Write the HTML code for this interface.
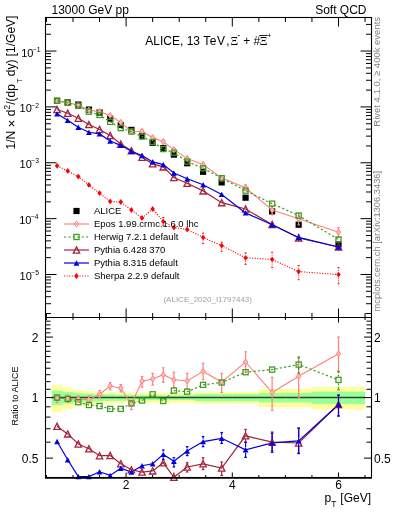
<!DOCTYPE html><html><head><meta charset="utf-8"><style>html,body{margin:0;padding:0;background:#fff;}svg{display:block;will-change:transform;}text{font-family:"Liberation Sans",sans-serif;}</style></head><body>
<svg width="393" height="512" viewBox="0 0 393 512">
<defs><clipPath id="cu"><rect x="45.5" y="17.5" width="326.0" height="300.0"/></clipPath>
<clipPath id="cr"><rect x="45.5" y="317.5" width="326.0" height="160.0"/></clipPath></defs>
<g clip-path="url(#cr)">
<rect x="51.76" y="385.32" width="10.62" height="26.57" fill="#ffff99"/>
<rect x="62.38" y="387.71" width="10.62" height="21.05" fill="#ffff99"/>
<rect x="73.00" y="390.24" width="10.62" height="15.40" fill="#ffff99"/>
<rect x="83.62" y="390.88" width="10.62" height="14.00" fill="#ffff99"/>
<rect x="94.24" y="391.86" width="10.62" height="11.89" fill="#ffff99"/>
<rect x="104.86" y="392.27" width="10.62" height="11.01" fill="#ffff99"/>
<rect x="115.48" y="392.51" width="10.62" height="10.49" fill="#ffff99"/>
<rect x="126.10" y="392.68" width="10.62" height="10.14" fill="#ffff99"/>
<rect x="136.72" y="392.84" width="10.62" height="9.79" fill="#ffff99"/>
<rect x="147.34" y="392.84" width="10.62" height="9.79" fill="#ffff99"/>
<rect x="157.96" y="392.84" width="10.62" height="9.79" fill="#ffff99"/>
<rect x="168.58" y="392.84" width="10.62" height="9.79" fill="#ffff99"/>
<rect x="179.20" y="392.84" width="15.93" height="9.79" fill="#ffff99"/>
<rect x="195.13" y="392.02" width="15.93" height="11.54" fill="#ffff99"/>
<rect x="211.06" y="392.02" width="21.24" height="11.54" fill="#ffff99"/>
<rect x="232.30" y="392.02" width="26.55" height="11.54" fill="#ffff99"/>
<rect x="258.85" y="388.96" width="26.55" height="18.22" fill="#ffff99"/>
<rect x="285.40" y="388.96" width="26.55" height="18.22" fill="#ffff99"/>
<rect x="311.95" y="387.16" width="53.10" height="22.29" fill="#ffff99"/>
<rect x="51.76" y="390.72" width="10.62" height="14.35" fill="#99ff99"/>
<rect x="62.38" y="392.02" width="10.62" height="11.54" fill="#99ff99"/>
<rect x="73.00" y="393.26" width="10.62" height="8.91" fill="#99ff99"/>
<rect x="83.62" y="393.59" width="10.62" height="8.21" fill="#99ff99"/>
<rect x="94.24" y="394.18" width="10.62" height="6.99" fill="#99ff99"/>
<rect x="104.86" y="394.43" width="10.62" height="6.46" fill="#99ff99"/>
<rect x="115.48" y="394.60" width="10.62" height="6.11" fill="#99ff99"/>
<rect x="126.10" y="394.77" width="10.62" height="5.76" fill="#99ff99"/>
<rect x="136.72" y="395.19" width="10.62" height="4.89" fill="#99ff99"/>
<rect x="147.34" y="395.19" width="10.62" height="4.89" fill="#99ff99"/>
<rect x="157.96" y="395.19" width="10.62" height="4.89" fill="#99ff99"/>
<rect x="168.58" y="395.19" width="10.62" height="4.89" fill="#99ff99"/>
<rect x="179.20" y="395.19" width="15.93" height="4.89" fill="#99ff99"/>
<rect x="195.13" y="394.09" width="15.93" height="7.16" fill="#99ff99"/>
<rect x="211.06" y="394.09" width="21.24" height="7.16" fill="#99ff99"/>
<rect x="232.30" y="394.09" width="26.55" height="7.16" fill="#99ff99"/>
<rect x="258.85" y="393.01" width="26.55" height="9.44" fill="#99ff99"/>
<rect x="285.40" y="393.01" width="26.55" height="9.44" fill="#99ff99"/>
<rect x="311.95" y="391.61" width="53.10" height="12.42" fill="#99ff99"/>
<line x1="51.8" x2="365.1" y1="397.6" y2="397.6" stroke="#000" stroke-opacity="0.72" stroke-width="1.5"/>
</g>
<g clip-path="url(#cr)">
<polyline points="57.07,398.30 67.69,398.70 78.31,399.00 88.93,399.70 99.55,394.20 110.17,386.00 120.79,388.20 131.41,404.00 142.03,381.20 152.65,379.00 163.27,374.70 173.89,379.80 187.16,381.00 203.09,371.40 221.68,382.10 245.57,362.00 272.12,392.50 298.68,376.30 338.50,353.70" fill="none" stroke="#ff7f7f" stroke-width="1.1"/>
<polyline points="57.07,397.60 67.69,398.80 78.31,402.10 88.93,405.00 99.55,406.00 110.17,408.90 120.79,408.90 131.41,403.50 142.03,400.50 152.65,394.30 163.27,401.00 173.89,390.60 187.16,391.70 203.09,384.90 221.68,382.50 245.57,372.20 272.12,369.60 298.68,364.60 338.50,379.90" fill="none" stroke="#3f9a22" stroke-width="1.2" stroke-dasharray="2.2,2.2"/>
<polyline points="57.07,426.30 67.69,433.90 78.31,444.00 88.93,448.80 99.55,455.70 110.17,455.50 120.79,463.70 131.41,469.80 142.03,472.10 152.65,470.90 163.27,462.70 173.89,477.30 187.16,467.00 203.09,463.80 221.68,468.00 245.57,435.80 272.12,442.20 298.68,443.00 338.50,404.50" fill="none" stroke="#a4243c" stroke-width="1.2"/>
<polyline points="57.07,441.50 67.69,459.70 78.31,476.60 88.93,476.60 99.55,471.80 110.17,475.40 120.79,468.20 131.41,472.00 142.03,465.70 152.65,463.80 163.27,454.40 173.89,461.20 187.16,451.00 203.09,441.60 221.68,438.30 245.57,449.80 272.12,442.90 298.68,440.90 338.50,404.50" fill="none" stroke="#0000e0" stroke-width="1.2"/>
</g>
<line x1="57.07" x2="57.07" y1="394.80" y2="402.50" stroke="#ff7f7f" stroke-width="1.20"/>
<line x1="55.77" x2="58.37" y1="394.80" y2="394.80" stroke="#ff7f7f" stroke-width="1.20"/>
<line x1="55.77" x2="58.37" y1="402.50" y2="402.50" stroke="#ff7f7f" stroke-width="1.20"/>
<line x1="67.69" x2="67.69" y1="395.00" y2="402.50" stroke="#ff7f7f" stroke-width="1.20"/>
<line x1="66.39" x2="68.99" y1="395.00" y2="395.00" stroke="#ff7f7f" stroke-width="1.20"/>
<line x1="66.39" x2="68.99" y1="402.50" y2="402.50" stroke="#ff7f7f" stroke-width="1.20"/>
<line x1="78.31" x2="78.31" y1="396.00" y2="402.00" stroke="#ff7f7f" stroke-width="1.20"/>
<line x1="77.01" x2="79.61" y1="396.00" y2="396.00" stroke="#ff7f7f" stroke-width="1.20"/>
<line x1="77.01" x2="79.61" y1="402.00" y2="402.00" stroke="#ff7f7f" stroke-width="1.20"/>
<line x1="88.93" x2="88.93" y1="396.00" y2="403.00" stroke="#ff7f7f" stroke-width="1.20"/>
<line x1="87.63" x2="90.23" y1="396.00" y2="396.00" stroke="#ff7f7f" stroke-width="1.20"/>
<line x1="87.63" x2="90.23" y1="403.00" y2="403.00" stroke="#ff7f7f" stroke-width="1.20"/>
<line x1="99.55" x2="99.55" y1="390.60" y2="398.00" stroke="#ff7f7f" stroke-width="1.20"/>
<line x1="98.25" x2="100.85" y1="390.60" y2="390.60" stroke="#ff7f7f" stroke-width="1.20"/>
<line x1="98.25" x2="100.85" y1="398.00" y2="398.00" stroke="#ff7f7f" stroke-width="1.20"/>
<line x1="110.17" x2="110.17" y1="382.60" y2="389.80" stroke="#ff7f7f" stroke-width="1.20"/>
<line x1="108.87" x2="111.47" y1="382.60" y2="382.60" stroke="#ff7f7f" stroke-width="1.20"/>
<line x1="108.87" x2="111.47" y1="389.80" y2="389.80" stroke="#ff7f7f" stroke-width="1.20"/>
<line x1="120.79" x2="120.79" y1="384.50" y2="392.00" stroke="#ff7f7f" stroke-width="1.20"/>
<line x1="119.49" x2="122.09" y1="384.50" y2="384.50" stroke="#ff7f7f" stroke-width="1.20"/>
<line x1="119.49" x2="122.09" y1="392.00" y2="392.00" stroke="#ff7f7f" stroke-width="1.20"/>
<line x1="131.41" x2="131.41" y1="400.50" y2="409.60" stroke="#ff7f7f" stroke-width="1.20"/>
<line x1="130.11" x2="132.71" y1="400.50" y2="400.50" stroke="#ff7f7f" stroke-width="1.20"/>
<line x1="130.11" x2="132.71" y1="409.60" y2="409.60" stroke="#ff7f7f" stroke-width="1.20"/>
<line x1="142.03" x2="142.03" y1="376.50" y2="387.20" stroke="#ff7f7f" stroke-width="1.20"/>
<line x1="140.73" x2="143.33" y1="376.50" y2="376.50" stroke="#ff7f7f" stroke-width="1.20"/>
<line x1="140.73" x2="143.33" y1="387.20" y2="387.20" stroke="#ff7f7f" stroke-width="1.20"/>
<line x1="152.65" x2="152.65" y1="373.40" y2="385.00" stroke="#ff7f7f" stroke-width="1.20"/>
<line x1="151.35" x2="153.95" y1="373.40" y2="373.40" stroke="#ff7f7f" stroke-width="1.20"/>
<line x1="151.35" x2="153.95" y1="385.00" y2="385.00" stroke="#ff7f7f" stroke-width="1.20"/>
<line x1="163.27" x2="163.27" y1="367.80" y2="382.30" stroke="#ff7f7f" stroke-width="1.20"/>
<line x1="161.97" x2="164.57" y1="367.80" y2="367.80" stroke="#ff7f7f" stroke-width="1.20"/>
<line x1="161.97" x2="164.57" y1="382.30" y2="382.30" stroke="#ff7f7f" stroke-width="1.20"/>
<line x1="173.89" x2="173.89" y1="372.20" y2="387.40" stroke="#ff7f7f" stroke-width="1.20"/>
<line x1="172.59" x2="175.19" y1="372.20" y2="372.20" stroke="#ff7f7f" stroke-width="1.20"/>
<line x1="172.59" x2="175.19" y1="387.40" y2="387.40" stroke="#ff7f7f" stroke-width="1.20"/>
<line x1="187.16" x2="187.16" y1="373.40" y2="388.70" stroke="#ff7f7f" stroke-width="1.20"/>
<line x1="185.86" x2="188.47" y1="373.40" y2="373.40" stroke="#ff7f7f" stroke-width="1.20"/>
<line x1="185.86" x2="188.47" y1="388.70" y2="388.70" stroke="#ff7f7f" stroke-width="1.20"/>
<line x1="203.09" x2="203.09" y1="363.30" y2="379.80" stroke="#ff7f7f" stroke-width="1.20"/>
<line x1="201.79" x2="204.40" y1="363.30" y2="363.30" stroke="#ff7f7f" stroke-width="1.20"/>
<line x1="201.79" x2="204.40" y1="379.80" y2="379.80" stroke="#ff7f7f" stroke-width="1.20"/>
<line x1="221.68" x2="221.68" y1="373.40" y2="392.50" stroke="#ff7f7f" stroke-width="1.20"/>
<line x1="220.38" x2="222.98" y1="373.40" y2="373.40" stroke="#ff7f7f" stroke-width="1.20"/>
<line x1="220.38" x2="222.98" y1="392.50" y2="392.50" stroke="#ff7f7f" stroke-width="1.20"/>
<line x1="245.57" x2="245.57" y1="351.80" y2="372.20" stroke="#ff7f7f" stroke-width="1.20"/>
<line x1="244.27" x2="246.88" y1="351.80" y2="351.80" stroke="#ff7f7f" stroke-width="1.20"/>
<line x1="244.27" x2="246.88" y1="372.20" y2="372.20" stroke="#ff7f7f" stroke-width="1.20"/>
<line x1="272.12" x2="272.12" y1="377.30" y2="410.40" stroke="#ff7f7f" stroke-width="1.20"/>
<line x1="270.82" x2="273.43" y1="377.30" y2="377.30" stroke="#ff7f7f" stroke-width="1.20"/>
<line x1="270.82" x2="273.43" y1="410.40" y2="410.40" stroke="#ff7f7f" stroke-width="1.20"/>
<line x1="298.68" x2="298.68" y1="358.00" y2="398.00" stroke="#ff7f7f" stroke-width="1.20"/>
<line x1="297.38" x2="299.98" y1="358.00" y2="358.00" stroke="#ff7f7f" stroke-width="1.20"/>
<line x1="297.38" x2="299.98" y1="398.00" y2="398.00" stroke="#ff7f7f" stroke-width="1.20"/>
<line x1="338.50" x2="338.50" y1="337.10" y2="372.00" stroke="#ff7f7f" stroke-width="1.20"/>
<line x1="337.20" x2="339.80" y1="337.10" y2="337.10" stroke="#ff7f7f" stroke-width="1.20"/>
<line x1="337.20" x2="339.80" y1="372.00" y2="372.00" stroke="#ff7f7f" stroke-width="1.20"/>
<polygon points="57.07,395.40 59.27,398.30 57.07,401.20 54.87,398.30" fill="#ffb8b8" stroke="#ff7f7f" stroke-width="1.0"/>
<polygon points="67.69,395.80 69.89,398.70 67.69,401.60 65.49,398.70" fill="#ffb8b8" stroke="#ff7f7f" stroke-width="1.0"/>
<polygon points="78.31,396.10 80.51,399.00 78.31,401.90 76.11,399.00" fill="#ffb8b8" stroke="#ff7f7f" stroke-width="1.0"/>
<polygon points="88.93,396.80 91.13,399.70 88.93,402.60 86.73,399.70" fill="#ffb8b8" stroke="#ff7f7f" stroke-width="1.0"/>
<polygon points="99.55,391.30 101.75,394.20 99.55,397.10 97.35,394.20" fill="#ffb8b8" stroke="#ff7f7f" stroke-width="1.0"/>
<polygon points="110.17,383.10 112.37,386.00 110.17,388.90 107.97,386.00" fill="#ffb8b8" stroke="#ff7f7f" stroke-width="1.0"/>
<polygon points="120.79,385.30 122.99,388.20 120.79,391.10 118.59,388.20" fill="#ffb8b8" stroke="#ff7f7f" stroke-width="1.0"/>
<polygon points="131.41,401.10 133.61,404.00 131.41,406.90 129.21,404.00" fill="#ffb8b8" stroke="#ff7f7f" stroke-width="1.0"/>
<polygon points="142.03,378.30 144.23,381.20 142.03,384.10 139.83,381.20" fill="#ffb8b8" stroke="#ff7f7f" stroke-width="1.0"/>
<polygon points="152.65,376.10 154.85,379.00 152.65,381.90 150.45,379.00" fill="#ffb8b8" stroke="#ff7f7f" stroke-width="1.0"/>
<polygon points="163.27,371.80 165.47,374.70 163.27,377.60 161.07,374.70" fill="#ffb8b8" stroke="#ff7f7f" stroke-width="1.0"/>
<polygon points="173.89,376.90 176.09,379.80 173.89,382.70 171.69,379.80" fill="#ffb8b8" stroke="#ff7f7f" stroke-width="1.0"/>
<polygon points="187.16,378.10 189.36,381.00 187.16,383.90 184.97,381.00" fill="#ffb8b8" stroke="#ff7f7f" stroke-width="1.0"/>
<polygon points="203.09,368.50 205.29,371.40 203.09,374.30 200.90,371.40" fill="#ffb8b8" stroke="#ff7f7f" stroke-width="1.0"/>
<polygon points="221.68,379.20 223.88,382.10 221.68,385.00 219.48,382.10" fill="#ffb8b8" stroke="#ff7f7f" stroke-width="1.0"/>
<polygon points="245.57,359.10 247.77,362.00 245.57,364.90 243.38,362.00" fill="#ffb8b8" stroke="#ff7f7f" stroke-width="1.0"/>
<polygon points="272.12,389.60 274.32,392.50 272.12,395.40 269.93,392.50" fill="#ffb8b8" stroke="#ff7f7f" stroke-width="1.0"/>
<polygon points="298.68,373.40 300.88,376.30 298.68,379.20 296.48,376.30" fill="#ffb8b8" stroke="#ff7f7f" stroke-width="1.0"/>
<polygon points="338.50,350.80 340.70,353.70 338.50,356.60 336.30,353.70" fill="#ffb8b8" stroke="#ff7f7f" stroke-width="1.0"/>
<line x1="272.12" x2="272.12" y1="366.00" y2="366.30" stroke="#3f9a22" stroke-width="1.20" stroke-dasharray="2,1.5"/>
<line x1="272.12" x2="272.12" y1="372.90" y2="373.20" stroke="#3f9a22" stroke-width="1.20" stroke-dasharray="2,1.5"/>
<line x1="298.68" x2="298.68" y1="357.00" y2="361.30" stroke="#3f9a22" stroke-width="1.20" stroke-dasharray="2,1.5"/>
<line x1="298.68" x2="298.68" y1="367.90" y2="373.30" stroke="#3f9a22" stroke-width="1.20" stroke-dasharray="2,1.5"/>
<line x1="297.38" x2="299.98" y1="357.00" y2="357.00" stroke="#3f9a22" stroke-width="1.20"/>
<line x1="297.38" x2="299.98" y1="373.30" y2="373.30" stroke="#3f9a22" stroke-width="1.20"/>
<line x1="338.50" x2="338.50" y1="371.30" y2="376.60" stroke="#3f9a22" stroke-width="1.20" stroke-dasharray="2,1.5"/>
<line x1="338.50" x2="338.50" y1="383.20" y2="389.70" stroke="#3f9a22" stroke-width="1.20" stroke-dasharray="2,1.5"/>
<line x1="337.20" x2="339.80" y1="371.30" y2="371.30" stroke="#3f9a22" stroke-width="1.20"/>
<line x1="337.20" x2="339.80" y1="389.70" y2="389.70" stroke="#3f9a22" stroke-width="1.20"/>
<rect x="54.49" y="395.03" width="5.15" height="5.15" fill="none" stroke="#3f9a22" stroke-width="1.25"/>
<rect x="65.11" y="396.23" width="5.15" height="5.15" fill="none" stroke="#3f9a22" stroke-width="1.25"/>
<rect x="75.73" y="399.53" width="5.15" height="5.15" fill="none" stroke="#3f9a22" stroke-width="1.25"/>
<rect x="86.35" y="402.43" width="5.15" height="5.15" fill="none" stroke="#3f9a22" stroke-width="1.25"/>
<rect x="96.97" y="403.43" width="5.15" height="5.15" fill="none" stroke="#3f9a22" stroke-width="1.25"/>
<rect x="107.59" y="406.32" width="5.15" height="5.15" fill="none" stroke="#3f9a22" stroke-width="1.25"/>
<rect x="118.21" y="406.32" width="5.15" height="5.15" fill="none" stroke="#3f9a22" stroke-width="1.25"/>
<rect x="128.84" y="400.93" width="5.15" height="5.15" fill="none" stroke="#3f9a22" stroke-width="1.25"/>
<rect x="139.45" y="397.93" width="5.15" height="5.15" fill="none" stroke="#3f9a22" stroke-width="1.25"/>
<rect x="150.08" y="391.73" width="5.15" height="5.15" fill="none" stroke="#3f9a22" stroke-width="1.25"/>
<rect x="160.70" y="398.43" width="5.15" height="5.15" fill="none" stroke="#3f9a22" stroke-width="1.25"/>
<rect x="171.31" y="388.03" width="5.15" height="5.15" fill="none" stroke="#3f9a22" stroke-width="1.25"/>
<rect x="184.59" y="389.12" width="5.15" height="5.15" fill="none" stroke="#3f9a22" stroke-width="1.25"/>
<rect x="200.52" y="382.32" width="5.15" height="5.15" fill="none" stroke="#3f9a22" stroke-width="1.25"/>
<rect x="219.11" y="379.93" width="5.15" height="5.15" fill="none" stroke="#3f9a22" stroke-width="1.25"/>
<rect x="243.00" y="369.62" width="5.15" height="5.15" fill="none" stroke="#3f9a22" stroke-width="1.25"/>
<rect x="269.55" y="367.03" width="5.15" height="5.15" fill="none" stroke="#3f9a22" stroke-width="1.25"/>
<rect x="296.10" y="362.03" width="5.15" height="5.15" fill="none" stroke="#3f9a22" stroke-width="1.25"/>
<rect x="335.93" y="377.32" width="5.15" height="5.15" fill="none" stroke="#3f9a22" stroke-width="1.25"/>
<line x1="173.89" x2="173.89" y1="472.60" y2="474.00" stroke="#a4243c" stroke-width="1.20"/>
<line x1="187.16" x2="187.16" y1="462.70" y2="463.70" stroke="#a4243c" stroke-width="1.20"/>
<line x1="187.16" x2="187.16" y1="470.30" y2="472.00" stroke="#a4243c" stroke-width="1.20"/>
<line x1="185.86" x2="188.47" y1="462.70" y2="462.70" stroke="#a4243c" stroke-width="1.20"/>
<line x1="185.86" x2="188.47" y1="472.00" y2="472.00" stroke="#a4243c" stroke-width="1.20"/>
<line x1="203.09" x2="203.09" y1="457.70" y2="460.50" stroke="#a4243c" stroke-width="1.20"/>
<line x1="203.09" x2="203.09" y1="467.10" y2="469.60" stroke="#a4243c" stroke-width="1.20"/>
<line x1="201.79" x2="204.40" y1="457.70" y2="457.70" stroke="#a4243c" stroke-width="1.20"/>
<line x1="201.79" x2="204.40" y1="469.60" y2="469.60" stroke="#a4243c" stroke-width="1.20"/>
<line x1="221.68" x2="221.68" y1="462.00" y2="464.70" stroke="#a4243c" stroke-width="1.20"/>
<line x1="221.68" x2="221.68" y1="471.30" y2="475.50" stroke="#a4243c" stroke-width="1.20"/>
<line x1="220.38" x2="222.98" y1="462.00" y2="462.00" stroke="#a4243c" stroke-width="1.20"/>
<line x1="220.38" x2="222.98" y1="475.50" y2="475.50" stroke="#a4243c" stroke-width="1.20"/>
<line x1="245.57" x2="245.57" y1="429.40" y2="432.50" stroke="#a4243c" stroke-width="1.20"/>
<line x1="245.57" x2="245.57" y1="439.10" y2="442.20" stroke="#a4243c" stroke-width="1.20"/>
<line x1="244.27" x2="246.88" y1="429.40" y2="429.40" stroke="#a4243c" stroke-width="1.20"/>
<line x1="244.27" x2="246.88" y1="442.20" y2="442.20" stroke="#a4243c" stroke-width="1.20"/>
<line x1="272.12" x2="272.12" y1="432.00" y2="438.90" stroke="#a4243c" stroke-width="1.20"/>
<line x1="272.12" x2="272.12" y1="445.50" y2="451.00" stroke="#a4243c" stroke-width="1.20"/>
<line x1="270.82" x2="273.43" y1="432.00" y2="432.00" stroke="#a4243c" stroke-width="1.20"/>
<line x1="270.82" x2="273.43" y1="451.00" y2="451.00" stroke="#a4243c" stroke-width="1.20"/>
<line x1="298.68" x2="298.68" y1="428.00" y2="439.70" stroke="#a4243c" stroke-width="1.20"/>
<line x1="298.68" x2="298.68" y1="446.30" y2="453.00" stroke="#a4243c" stroke-width="1.20"/>
<line x1="297.38" x2="299.98" y1="428.00" y2="428.00" stroke="#a4243c" stroke-width="1.20"/>
<line x1="297.38" x2="299.98" y1="453.00" y2="453.00" stroke="#a4243c" stroke-width="1.20"/>
<line x1="338.50" x2="338.50" y1="395.00" y2="401.20" stroke="#a4243c" stroke-width="1.20"/>
<line x1="338.50" x2="338.50" y1="407.80" y2="416.00" stroke="#a4243c" stroke-width="1.20"/>
<line x1="337.20" x2="339.80" y1="395.00" y2="395.00" stroke="#a4243c" stroke-width="1.20"/>
<line x1="337.20" x2="339.80" y1="416.00" y2="416.00" stroke="#a4243c" stroke-width="1.20"/>
<polygon points="57.07,423.20 60.27,429.40 53.87,429.40" fill="none" stroke="#a4243c" stroke-width="1.3" stroke-linejoin="miter"/>
<polygon points="67.69,430.80 70.89,437.00 64.49,437.00" fill="none" stroke="#a4243c" stroke-width="1.3" stroke-linejoin="miter"/>
<polygon points="78.31,440.90 81.51,447.10 75.11,447.10" fill="none" stroke="#a4243c" stroke-width="1.3" stroke-linejoin="miter"/>
<polygon points="88.93,445.70 92.13,451.90 85.73,451.90" fill="none" stroke="#a4243c" stroke-width="1.3" stroke-linejoin="miter"/>
<polygon points="99.55,452.60 102.75,458.80 96.35,458.80" fill="none" stroke="#a4243c" stroke-width="1.3" stroke-linejoin="miter"/>
<polygon points="110.17,452.40 113.37,458.60 106.97,458.60" fill="none" stroke="#a4243c" stroke-width="1.3" stroke-linejoin="miter"/>
<polygon points="120.79,460.60 123.99,466.80 117.59,466.80" fill="none" stroke="#a4243c" stroke-width="1.3" stroke-linejoin="miter"/>
<polygon points="131.41,466.70 134.61,472.90 128.21,472.90" fill="none" stroke="#a4243c" stroke-width="1.3" stroke-linejoin="miter"/>
<polygon points="142.03,469.00 145.23,475.20 138.83,475.20" fill="none" stroke="#a4243c" stroke-width="1.3" stroke-linejoin="miter"/>
<polygon points="152.65,467.80 155.85,474.00 149.45,474.00" fill="none" stroke="#a4243c" stroke-width="1.3" stroke-linejoin="miter"/>
<polygon points="163.27,459.60 166.47,465.80 160.07,465.80" fill="none" stroke="#a4243c" stroke-width="1.3" stroke-linejoin="miter"/>
<polygon points="173.89,474.20 177.09,480.40 170.69,480.40" fill="none" stroke="#a4243c" stroke-width="1.3" stroke-linejoin="miter"/>
<polygon points="187.16,463.90 190.36,470.10 183.97,470.10" fill="none" stroke="#a4243c" stroke-width="1.3" stroke-linejoin="miter"/>
<polygon points="203.09,460.70 206.29,466.90 199.90,466.90" fill="none" stroke="#a4243c" stroke-width="1.3" stroke-linejoin="miter"/>
<polygon points="221.68,464.90 224.88,471.10 218.48,471.10" fill="none" stroke="#a4243c" stroke-width="1.3" stroke-linejoin="miter"/>
<polygon points="245.57,432.70 248.77,438.90 242.38,438.90" fill="none" stroke="#a4243c" stroke-width="1.3" stroke-linejoin="miter"/>
<polygon points="272.12,439.10 275.32,445.30 268.93,445.30" fill="none" stroke="#a4243c" stroke-width="1.3" stroke-linejoin="miter"/>
<polygon points="298.68,439.90 301.88,446.10 295.48,446.10" fill="none" stroke="#a4243c" stroke-width="1.3" stroke-linejoin="miter"/>
<polygon points="338.50,401.40 341.70,407.60 335.30,407.60" fill="none" stroke="#a4243c" stroke-width="1.3" stroke-linejoin="miter"/>
<line x1="163.27" x2="163.27" y1="450.00" y2="451.60" stroke="#0000e0" stroke-width="1.20"/>
<line x1="163.27" x2="163.27" y1="457.20" y2="459.40" stroke="#0000e0" stroke-width="1.20"/>
<line x1="161.97" x2="164.57" y1="450.00" y2="450.00" stroke="#0000e0" stroke-width="1.20"/>
<line x1="161.97" x2="164.57" y1="459.40" y2="459.40" stroke="#0000e0" stroke-width="1.20"/>
<line x1="173.89" x2="173.89" y1="457.70" y2="458.40" stroke="#0000e0" stroke-width="1.20"/>
<line x1="173.89" x2="173.89" y1="464.00" y2="467.00" stroke="#0000e0" stroke-width="1.20"/>
<line x1="172.59" x2="175.19" y1="457.70" y2="457.70" stroke="#0000e0" stroke-width="1.20"/>
<line x1="172.59" x2="175.19" y1="467.00" y2="467.00" stroke="#0000e0" stroke-width="1.20"/>
<line x1="187.16" x2="187.16" y1="446.70" y2="448.20" stroke="#0000e0" stroke-width="1.20"/>
<line x1="187.16" x2="187.16" y1="453.80" y2="455.60" stroke="#0000e0" stroke-width="1.20"/>
<line x1="185.86" x2="188.47" y1="446.70" y2="446.70" stroke="#0000e0" stroke-width="1.20"/>
<line x1="185.86" x2="188.47" y1="455.60" y2="455.60" stroke="#0000e0" stroke-width="1.20"/>
<line x1="203.09" x2="203.09" y1="436.50" y2="438.80" stroke="#0000e0" stroke-width="1.20"/>
<line x1="203.09" x2="203.09" y1="444.40" y2="446.70" stroke="#0000e0" stroke-width="1.20"/>
<line x1="201.79" x2="204.40" y1="436.50" y2="436.50" stroke="#0000e0" stroke-width="1.20"/>
<line x1="201.79" x2="204.40" y1="446.70" y2="446.70" stroke="#0000e0" stroke-width="1.20"/>
<line x1="221.68" x2="221.68" y1="432.50" y2="435.50" stroke="#0000e0" stroke-width="1.20"/>
<line x1="221.68" x2="221.68" y1="441.10" y2="443.40" stroke="#0000e0" stroke-width="1.20"/>
<line x1="220.38" x2="222.98" y1="432.50" y2="432.50" stroke="#0000e0" stroke-width="1.20"/>
<line x1="220.38" x2="222.98" y1="443.40" y2="443.40" stroke="#0000e0" stroke-width="1.20"/>
<line x1="245.57" x2="245.57" y1="442.20" y2="447.00" stroke="#0000e0" stroke-width="1.20"/>
<line x1="245.57" x2="245.57" y1="452.60" y2="457.40" stroke="#0000e0" stroke-width="1.20"/>
<line x1="244.27" x2="246.88" y1="442.20" y2="442.20" stroke="#0000e0" stroke-width="1.20"/>
<line x1="244.27" x2="246.88" y1="457.40" y2="457.40" stroke="#0000e0" stroke-width="1.20"/>
<line x1="272.12" x2="272.12" y1="433.30" y2="440.10" stroke="#0000e0" stroke-width="1.20"/>
<line x1="272.12" x2="272.12" y1="445.70" y2="452.30" stroke="#0000e0" stroke-width="1.20"/>
<line x1="270.82" x2="273.43" y1="433.30" y2="433.30" stroke="#0000e0" stroke-width="1.20"/>
<line x1="270.82" x2="273.43" y1="452.30" y2="452.30" stroke="#0000e0" stroke-width="1.20"/>
<line x1="298.68" x2="298.68" y1="428.20" y2="438.10" stroke="#0000e0" stroke-width="1.20"/>
<line x1="298.68" x2="298.68" y1="443.70" y2="453.60" stroke="#0000e0" stroke-width="1.20"/>
<line x1="297.38" x2="299.98" y1="428.20" y2="428.20" stroke="#0000e0" stroke-width="1.20"/>
<line x1="297.38" x2="299.98" y1="453.60" y2="453.60" stroke="#0000e0" stroke-width="1.20"/>
<line x1="338.50" x2="338.50" y1="395.20" y2="401.70" stroke="#0000e0" stroke-width="1.20"/>
<line x1="338.50" x2="338.50" y1="407.30" y2="416.00" stroke="#0000e0" stroke-width="1.20"/>
<line x1="337.20" x2="339.80" y1="395.20" y2="395.20" stroke="#0000e0" stroke-width="1.20"/>
<line x1="337.20" x2="339.80" y1="416.00" y2="416.00" stroke="#0000e0" stroke-width="1.20"/>
<polygon points="57.07,438.80 59.97,444.20 54.17,444.20" fill="#0000e0"/>
<polygon points="67.69,457.00 70.59,462.40 64.79,462.40" fill="#0000e0"/>
<polygon points="78.31,473.90 81.21,479.30 75.41,479.30" fill="#0000e0"/>
<polygon points="88.93,473.90 91.83,479.30 86.03,479.30" fill="#0000e0"/>
<polygon points="99.55,469.10 102.45,474.50 96.65,474.50" fill="#0000e0"/>
<polygon points="110.17,472.70 113.07,478.10 107.27,478.10" fill="#0000e0"/>
<polygon points="120.79,465.50 123.69,470.90 117.89,470.90" fill="#0000e0"/>
<polygon points="131.41,469.30 134.31,474.70 128.51,474.70" fill="#0000e0"/>
<polygon points="142.03,463.00 144.93,468.40 139.13,468.40" fill="#0000e0"/>
<polygon points="152.65,461.10 155.55,466.50 149.75,466.50" fill="#0000e0"/>
<polygon points="163.27,451.70 166.17,457.10 160.37,457.10" fill="#0000e0"/>
<polygon points="173.89,458.50 176.79,463.90 170.99,463.90" fill="#0000e0"/>
<polygon points="187.16,448.30 190.06,453.70 184.26,453.70" fill="#0000e0"/>
<polygon points="203.09,438.90 206.00,444.30 200.19,444.30" fill="#0000e0"/>
<polygon points="221.68,435.60 224.58,441.00 218.78,441.00" fill="#0000e0"/>
<polygon points="245.57,447.10 248.47,452.50 242.67,452.50" fill="#0000e0"/>
<polygon points="272.12,440.20 275.02,445.60 269.23,445.60" fill="#0000e0"/>
<polygon points="298.68,438.20 301.57,443.60 295.78,443.60" fill="#0000e0"/>
<polygon points="338.50,401.80 341.40,407.20 335.60,407.20" fill="#0000e0"/>
<g clip-path="url(#cu)">
<rect x="53.97" y="97.70" width="6.20" height="6.20" fill="#000"/>
<rect x="64.59" y="99.30" width="6.20" height="6.20" fill="#000"/>
<rect x="75.21" y="101.50" width="6.20" height="6.20" fill="#000"/>
<rect x="85.83" y="106.50" width="6.20" height="6.20" fill="#000"/>
<rect x="96.45" y="109.50" width="6.20" height="6.20" fill="#000"/>
<rect x="107.07" y="115.60" width="6.20" height="6.20" fill="#000"/>
<rect x="117.69" y="121.90" width="6.20" height="6.20" fill="#000"/>
<rect x="128.31" y="126.80" width="6.20" height="6.20" fill="#000"/>
<rect x="138.93" y="132.70" width="6.20" height="6.20" fill="#000"/>
<rect x="149.55" y="139.70" width="6.20" height="6.20" fill="#000"/>
<rect x="160.17" y="145.00" width="6.20" height="6.20" fill="#000"/>
<rect x="170.79" y="151.50" width="6.20" height="6.20" fill="#000"/>
<rect x="184.06" y="160.10" width="6.20" height="6.20" fill="#000"/>
<rect x="200.00" y="168.70" width="6.20" height="6.20" fill="#000"/>
<rect x="218.58" y="179.30" width="6.20" height="6.20" fill="#000"/>
<rect x="242.47" y="194.60" width="6.20" height="6.20" fill="#000"/>
<rect x="269.02" y="208.30" width="6.20" height="6.20" fill="#000"/>
<rect x="295.57" y="221.60" width="6.20" height="6.20" fill="#000"/>
<rect x="335.40" y="241.30" width="6.20" height="6.20" fill="#000"/>
<line x1="57.07" x2="57.07" y1="100.02" y2="102.16" stroke="#ff7f7f" stroke-width="1.20"/>
<line x1="55.77" x2="58.37" y1="100.02" y2="100.02" stroke="#ff7f7f" stroke-width="1.20"/>
<line x1="55.77" x2="58.37" y1="102.16" y2="102.16" stroke="#ff7f7f" stroke-width="1.20"/>
<line x1="67.69" x2="67.69" y1="101.68" y2="103.76" stroke="#ff7f7f" stroke-width="1.20"/>
<line x1="66.39" x2="68.99" y1="101.68" y2="101.68" stroke="#ff7f7f" stroke-width="1.20"/>
<line x1="66.39" x2="68.99" y1="103.76" y2="103.76" stroke="#ff7f7f" stroke-width="1.20"/>
<line x1="78.31" x2="78.31" y1="104.16" y2="105.82" stroke="#ff7f7f" stroke-width="1.20"/>
<line x1="77.01" x2="79.61" y1="104.16" y2="104.16" stroke="#ff7f7f" stroke-width="1.20"/>
<line x1="77.01" x2="79.61" y1="105.82" y2="105.82" stroke="#ff7f7f" stroke-width="1.20"/>
<line x1="88.93" x2="88.93" y1="109.16" y2="111.10" stroke="#ff7f7f" stroke-width="1.20"/>
<line x1="87.63" x2="90.23" y1="109.16" y2="109.16" stroke="#ff7f7f" stroke-width="1.20"/>
<line x1="87.63" x2="90.23" y1="111.10" y2="111.10" stroke="#ff7f7f" stroke-width="1.20"/>
<line x1="99.55" x2="99.55" y1="110.65" y2="112.71" stroke="#ff7f7f" stroke-width="1.20"/>
<line x1="98.25" x2="100.85" y1="110.65" y2="110.65" stroke="#ff7f7f" stroke-width="1.20"/>
<line x1="98.25" x2="100.85" y1="112.71" y2="112.71" stroke="#ff7f7f" stroke-width="1.20"/>
<line x1="110.17" x2="110.17" y1="114.53" y2="116.53" stroke="#ff7f7f" stroke-width="1.20"/>
<line x1="108.87" x2="111.47" y1="114.53" y2="114.53" stroke="#ff7f7f" stroke-width="1.20"/>
<line x1="108.87" x2="111.47" y1="116.53" y2="116.53" stroke="#ff7f7f" stroke-width="1.20"/>
<line x1="120.79" x2="120.79" y1="121.36" y2="123.44" stroke="#ff7f7f" stroke-width="1.20"/>
<line x1="119.49" x2="122.09" y1="121.36" y2="121.36" stroke="#ff7f7f" stroke-width="1.20"/>
<line x1="119.49" x2="122.09" y1="123.44" y2="123.44" stroke="#ff7f7f" stroke-width="1.20"/>
<line x1="131.41" x2="131.41" y1="130.71" y2="133.23" stroke="#ff7f7f" stroke-width="1.20"/>
<line x1="130.11" x2="132.71" y1="130.71" y2="130.71" stroke="#ff7f7f" stroke-width="1.20"/>
<line x1="130.11" x2="132.71" y1="133.23" y2="133.23" stroke="#ff7f7f" stroke-width="1.20"/>
<line x1="142.03" x2="142.03" y1="129.94" y2="132.91" stroke="#ff7f7f" stroke-width="1.20"/>
<line x1="140.73" x2="143.33" y1="129.94" y2="129.94" stroke="#ff7f7f" stroke-width="1.20"/>
<line x1="140.73" x2="143.33" y1="132.91" y2="132.91" stroke="#ff7f7f" stroke-width="1.20"/>
<line x1="152.65" x2="152.65" y1="136.07" y2="139.30" stroke="#ff7f7f" stroke-width="1.20"/>
<line x1="151.35" x2="153.95" y1="136.07" y2="136.07" stroke="#ff7f7f" stroke-width="1.20"/>
<line x1="151.35" x2="153.95" y1="139.30" y2="139.30" stroke="#ff7f7f" stroke-width="1.20"/>
<line x1="163.27" x2="163.27" y1="139.82" y2="143.85" stroke="#ff7f7f" stroke-width="1.20"/>
<line x1="161.97" x2="164.57" y1="139.82" y2="139.82" stroke="#ff7f7f" stroke-width="1.20"/>
<line x1="161.97" x2="164.57" y1="143.85" y2="143.85" stroke="#ff7f7f" stroke-width="1.20"/>
<line x1="173.89" x2="173.89" y1="147.54" y2="151.77" stroke="#ff7f7f" stroke-width="1.20"/>
<line x1="172.59" x2="175.19" y1="147.54" y2="147.54" stroke="#ff7f7f" stroke-width="1.20"/>
<line x1="172.59" x2="175.19" y1="151.77" y2="151.77" stroke="#ff7f7f" stroke-width="1.20"/>
<line x1="187.16" x2="187.16" y1="156.47" y2="160.73" stroke="#ff7f7f" stroke-width="1.20"/>
<line x1="185.86" x2="188.47" y1="156.47" y2="156.47" stroke="#ff7f7f" stroke-width="1.20"/>
<line x1="185.86" x2="188.47" y1="160.73" y2="160.73" stroke="#ff7f7f" stroke-width="1.20"/>
<line x1="203.09" x2="203.09" y1="162.27" y2="166.85" stroke="#ff7f7f" stroke-width="1.20"/>
<line x1="201.79" x2="204.40" y1="162.27" y2="162.27" stroke="#ff7f7f" stroke-width="1.20"/>
<line x1="201.79" x2="204.40" y1="166.85" y2="166.85" stroke="#ff7f7f" stroke-width="1.20"/>
<line x1="221.68" x2="221.68" y1="175.67" y2="180.98" stroke="#ff7f7f" stroke-width="1.20"/>
<line x1="220.38" x2="222.98" y1="175.67" y2="175.67" stroke="#ff7f7f" stroke-width="1.20"/>
<line x1="220.38" x2="222.98" y1="180.98" y2="180.98" stroke="#ff7f7f" stroke-width="1.20"/>
<line x1="245.57" x2="245.57" y1="184.97" y2="190.64" stroke="#ff7f7f" stroke-width="1.20"/>
<line x1="244.27" x2="246.88" y1="184.97" y2="184.97" stroke="#ff7f7f" stroke-width="1.20"/>
<line x1="244.27" x2="246.88" y1="190.64" y2="190.64" stroke="#ff7f7f" stroke-width="1.20"/>
<line x1="272.12" x2="272.12" y1="205.76" y2="214.96" stroke="#ff7f7f" stroke-width="1.20"/>
<line x1="270.82" x2="273.43" y1="205.76" y2="205.76" stroke="#ff7f7f" stroke-width="1.20"/>
<line x1="270.82" x2="273.43" y1="214.96" y2="214.96" stroke="#ff7f7f" stroke-width="1.20"/>
<line x1="298.68" x2="298.68" y1="213.69" y2="224.81" stroke="#ff7f7f" stroke-width="1.20"/>
<line x1="297.38" x2="299.98" y1="213.69" y2="213.69" stroke="#ff7f7f" stroke-width="1.20"/>
<line x1="297.38" x2="299.98" y1="224.81" y2="224.81" stroke="#ff7f7f" stroke-width="1.20"/>
<line x1="338.50" x2="338.50" y1="227.59" y2="237.29" stroke="#ff7f7f" stroke-width="1.20"/>
<line x1="337.20" x2="339.80" y1="227.59" y2="227.59" stroke="#ff7f7f" stroke-width="1.20"/>
<line x1="337.20" x2="339.80" y1="237.29" y2="237.29" stroke="#ff7f7f" stroke-width="1.20"/>
<polyline points="57.07,100.99 67.69,102.71 78.31,104.99 88.93,110.18 99.55,111.66 110.17,115.48 120.79,122.39 131.41,131.68 142.03,131.24 152.65,137.63 163.27,141.74 173.89,149.65 187.16,158.59 203.09,164.52 221.68,178.09 245.57,187.81 272.12,209.98 298.68,218.78 338.50,232.20" fill="none" stroke="#ff7f7f" stroke-width="1.1"/>
<polygon points="57.07,97.99 59.17,100.99 57.07,103.99 54.97,100.99" fill="#ffb8b8" stroke="#ff7f7f" stroke-width="1.0"/>
<polygon points="67.69,99.71 69.79,102.71 67.69,105.71 65.59,102.71" fill="#ffb8b8" stroke="#ff7f7f" stroke-width="1.0"/>
<polygon points="78.31,101.99 80.41,104.99 78.31,107.99 76.21,104.99" fill="#ffb8b8" stroke="#ff7f7f" stroke-width="1.0"/>
<polygon points="88.93,107.18 91.03,110.18 88.93,113.18 86.83,110.18" fill="#ffb8b8" stroke="#ff7f7f" stroke-width="1.0"/>
<polygon points="99.55,108.66 101.65,111.66 99.55,114.66 97.45,111.66" fill="#ffb8b8" stroke="#ff7f7f" stroke-width="1.0"/>
<polygon points="110.17,112.48 112.27,115.48 110.17,118.48 108.07,115.48" fill="#ffb8b8" stroke="#ff7f7f" stroke-width="1.0"/>
<polygon points="120.79,119.39 122.89,122.39 120.79,125.39 118.69,122.39" fill="#ffb8b8" stroke="#ff7f7f" stroke-width="1.0"/>
<polygon points="131.41,128.68 133.51,131.68 131.41,134.68 129.31,131.68" fill="#ffb8b8" stroke="#ff7f7f" stroke-width="1.0"/>
<polygon points="142.03,128.24 144.13,131.24 142.03,134.24 139.93,131.24" fill="#ffb8b8" stroke="#ff7f7f" stroke-width="1.0"/>
<polygon points="152.65,134.63 154.75,137.63 152.65,140.63 150.55,137.63" fill="#ffb8b8" stroke="#ff7f7f" stroke-width="1.0"/>
<polygon points="163.27,138.74 165.37,141.74 163.27,144.74 161.17,141.74" fill="#ffb8b8" stroke="#ff7f7f" stroke-width="1.0"/>
<polygon points="173.89,146.65 175.99,149.65 173.89,152.65 171.79,149.65" fill="#ffb8b8" stroke="#ff7f7f" stroke-width="1.0"/>
<polygon points="187.16,155.59 189.26,158.59 187.16,161.59 185.06,158.59" fill="#ffb8b8" stroke="#ff7f7f" stroke-width="1.0"/>
<polygon points="203.09,161.52 205.19,164.52 203.09,167.52 201.00,164.52" fill="#ffb8b8" stroke="#ff7f7f" stroke-width="1.0"/>
<polygon points="221.68,175.09 223.78,178.09 221.68,181.09 219.58,178.09" fill="#ffb8b8" stroke="#ff7f7f" stroke-width="1.0"/>
<polygon points="245.57,184.81 247.67,187.81 245.57,190.81 243.47,187.81" fill="#ffb8b8" stroke="#ff7f7f" stroke-width="1.0"/>
<polygon points="272.12,206.98 274.23,209.98 272.12,212.98 270.02,209.98" fill="#ffb8b8" stroke="#ff7f7f" stroke-width="1.0"/>
<polygon points="298.68,215.78 300.78,218.78 298.68,221.78 296.57,218.78" fill="#ffb8b8" stroke="#ff7f7f" stroke-width="1.0"/>
<polygon points="338.50,229.20 340.60,232.20 338.50,235.20 336.40,232.20" fill="#ffb8b8" stroke="#ff7f7f" stroke-width="1.0"/>
<polyline points="57.07,100.80 67.69,102.73 78.31,105.85 88.93,111.66 99.55,114.93 110.17,121.84 120.79,128.14 131.41,131.54 142.03,136.61 152.65,141.88 163.27,149.04 173.89,152.65 187.16,161.56 203.09,168.27 221.68,178.20 245.57,190.64 272.12,203.62 298.68,215.53 338.50,239.48" fill="none" stroke="#3f9a22" stroke-width="1.2" stroke-dasharray="2.2,2.2"/>
<rect x="54.49" y="98.22" width="5.15" height="5.15" fill="none" stroke="#3f9a22" stroke-width="1.25"/>
<rect x="65.11" y="100.16" width="5.15" height="5.15" fill="none" stroke="#3f9a22" stroke-width="1.25"/>
<rect x="75.73" y="103.28" width="5.15" height="5.15" fill="none" stroke="#3f9a22" stroke-width="1.25"/>
<rect x="86.35" y="109.08" width="5.15" height="5.15" fill="none" stroke="#3f9a22" stroke-width="1.25"/>
<rect x="96.97" y="112.36" width="5.15" height="5.15" fill="none" stroke="#3f9a22" stroke-width="1.25"/>
<rect x="107.59" y="119.27" width="5.15" height="5.15" fill="none" stroke="#3f9a22" stroke-width="1.25"/>
<rect x="118.21" y="125.57" width="5.15" height="5.15" fill="none" stroke="#3f9a22" stroke-width="1.25"/>
<rect x="128.84" y="128.96" width="5.15" height="5.15" fill="none" stroke="#3f9a22" stroke-width="1.25"/>
<rect x="139.45" y="134.03" width="5.15" height="5.15" fill="none" stroke="#3f9a22" stroke-width="1.25"/>
<rect x="150.08" y="139.31" width="5.15" height="5.15" fill="none" stroke="#3f9a22" stroke-width="1.25"/>
<rect x="160.70" y="146.47" width="5.15" height="5.15" fill="none" stroke="#3f9a22" stroke-width="1.25"/>
<rect x="171.31" y="150.08" width="5.15" height="5.15" fill="none" stroke="#3f9a22" stroke-width="1.25"/>
<rect x="184.59" y="158.99" width="5.15" height="5.15" fill="none" stroke="#3f9a22" stroke-width="1.25"/>
<rect x="200.52" y="165.70" width="5.15" height="5.15" fill="none" stroke="#3f9a22" stroke-width="1.25"/>
<rect x="219.11" y="175.63" width="5.15" height="5.15" fill="none" stroke="#3f9a22" stroke-width="1.25"/>
<rect x="243.00" y="188.07" width="5.15" height="5.15" fill="none" stroke="#3f9a22" stroke-width="1.25"/>
<rect x="269.55" y="201.04" width="5.15" height="5.15" fill="none" stroke="#3f9a22" stroke-width="1.25"/>
<rect x="296.10" y="212.95" width="5.15" height="5.15" fill="none" stroke="#3f9a22" stroke-width="1.25"/>
<rect x="335.93" y="236.91" width="5.15" height="5.15" fill="none" stroke="#3f9a22" stroke-width="1.25"/>
<line x1="298.68" x2="298.68" y1="233.85" y2="234.72" stroke="#a4243c" stroke-width="1.20"/>
<polyline points="57.07,109.48 67.69,113.19 78.31,118.20 88.93,124.53 99.55,129.45 110.17,135.49 120.79,144.07 131.41,150.67 142.03,157.20 152.65,163.87 163.27,166.89 173.89,177.45 187.16,183.19 203.09,190.90 221.68,202.66 245.57,209.02 272.12,224.49 298.68,238.02 338.50,247.02" fill="none" stroke="#a4243c" stroke-width="1.2"/>
<polygon points="57.07,106.38 60.27,112.58 53.87,112.58" fill="none" stroke="#a4243c" stroke-width="1.3" stroke-linejoin="miter"/>
<polygon points="67.69,110.09 70.89,116.29 64.49,116.29" fill="none" stroke="#a4243c" stroke-width="1.3" stroke-linejoin="miter"/>
<polygon points="78.31,115.10 81.51,121.30 75.11,121.30" fill="none" stroke="#a4243c" stroke-width="1.3" stroke-linejoin="miter"/>
<polygon points="88.93,121.43 92.13,127.63 85.73,127.63" fill="none" stroke="#a4243c" stroke-width="1.3" stroke-linejoin="miter"/>
<polygon points="99.55,126.35 102.75,132.55 96.35,132.55" fill="none" stroke="#a4243c" stroke-width="1.3" stroke-linejoin="miter"/>
<polygon points="110.17,132.39 113.37,138.59 106.97,138.59" fill="none" stroke="#a4243c" stroke-width="1.3" stroke-linejoin="miter"/>
<polygon points="120.79,140.97 123.99,147.17 117.59,147.17" fill="none" stroke="#a4243c" stroke-width="1.3" stroke-linejoin="miter"/>
<polygon points="131.41,147.57 134.61,153.77 128.21,153.77" fill="none" stroke="#a4243c" stroke-width="1.3" stroke-linejoin="miter"/>
<polygon points="142.03,154.10 145.23,160.30 138.83,160.30" fill="none" stroke="#a4243c" stroke-width="1.3" stroke-linejoin="miter"/>
<polygon points="152.65,160.77 155.85,166.97 149.45,166.97" fill="none" stroke="#a4243c" stroke-width="1.3" stroke-linejoin="miter"/>
<polygon points="163.27,163.79 166.47,169.99 160.07,169.99" fill="none" stroke="#a4243c" stroke-width="1.3" stroke-linejoin="miter"/>
<polygon points="173.89,174.35 177.09,180.55 170.69,180.55" fill="none" stroke="#a4243c" stroke-width="1.3" stroke-linejoin="miter"/>
<polygon points="187.16,180.09 190.36,186.29 183.97,186.29" fill="none" stroke="#a4243c" stroke-width="1.3" stroke-linejoin="miter"/>
<polygon points="203.09,187.80 206.29,194.00 199.90,194.00" fill="none" stroke="#a4243c" stroke-width="1.3" stroke-linejoin="miter"/>
<polygon points="221.68,199.56 224.88,205.76 218.48,205.76" fill="none" stroke="#a4243c" stroke-width="1.3" stroke-linejoin="miter"/>
<polygon points="245.57,205.92 248.77,212.12 242.38,212.12" fill="none" stroke="#a4243c" stroke-width="1.3" stroke-linejoin="miter"/>
<polygon points="272.12,221.39 275.32,227.59 268.93,227.59" fill="none" stroke="#a4243c" stroke-width="1.3" stroke-linejoin="miter"/>
<polygon points="298.68,234.92 301.88,241.12 295.48,241.12" fill="none" stroke="#a4243c" stroke-width="1.3" stroke-linejoin="miter"/>
<polygon points="338.50,243.92 341.70,250.12 335.30,250.12" fill="none" stroke="#a4243c" stroke-width="1.3" stroke-linejoin="miter"/>
<line x1="298.68" x2="298.68" y1="233.90" y2="234.63" stroke="#0000e0" stroke-width="1.20"/>
<line x1="298.68" x2="298.68" y1="240.23" y2="240.96" stroke="#0000e0" stroke-width="1.20"/>
<line x1="338.50" x2="338.50" y1="249.82" y2="250.21" stroke="#0000e0" stroke-width="1.20"/>
<polyline points="57.07,113.70 67.69,120.36 78.31,127.25 88.93,132.25 99.55,133.92 110.17,141.02 120.79,145.32 131.41,151.28 142.03,155.43 152.65,161.90 163.27,164.59 173.89,172.98 187.16,178.74 203.09,184.73 221.68,194.41 245.57,212.91 272.12,224.69 298.68,237.43 338.50,247.02" fill="none" stroke="#0000e0" stroke-width="1.2"/>
<polygon points="57.07,111.00 59.97,116.40 54.17,116.40" fill="#0000e0"/>
<polygon points="67.69,117.66 70.59,123.06 64.79,123.06" fill="#0000e0"/>
<polygon points="78.31,124.55 81.21,129.95 75.41,129.95" fill="#0000e0"/>
<polygon points="88.93,129.55 91.83,134.95 86.03,134.95" fill="#0000e0"/>
<polygon points="99.55,131.22 102.45,136.62 96.65,136.62" fill="#0000e0"/>
<polygon points="110.17,138.32 113.07,143.72 107.27,143.72" fill="#0000e0"/>
<polygon points="120.79,142.62 123.69,148.02 117.89,148.02" fill="#0000e0"/>
<polygon points="131.41,148.58 134.31,153.98 128.51,153.98" fill="#0000e0"/>
<polygon points="142.03,152.73 144.93,158.13 139.13,158.13" fill="#0000e0"/>
<polygon points="152.65,159.20 155.55,164.60 149.75,164.60" fill="#0000e0"/>
<polygon points="163.27,161.89 166.17,167.29 160.37,167.29" fill="#0000e0"/>
<polygon points="173.89,170.28 176.79,175.68 170.99,175.68" fill="#0000e0"/>
<polygon points="187.16,176.04 190.06,181.44 184.26,181.44" fill="#0000e0"/>
<polygon points="203.09,182.03 206.00,187.43 200.19,187.43" fill="#0000e0"/>
<polygon points="221.68,191.71 224.58,197.11 218.78,197.11" fill="#0000e0"/>
<polygon points="245.57,210.21 248.47,215.61 242.67,215.61" fill="#0000e0"/>
<polygon points="272.12,221.99 275.02,227.39 269.23,227.39" fill="#0000e0"/>
<polygon points="298.68,234.73 301.57,240.13 295.78,240.13" fill="#0000e0"/>
<polygon points="338.50,244.32 341.40,249.72 335.60,249.72" fill="#0000e0"/>
<line x1="163.27" x2="163.27" y1="217.50" y2="218.40" stroke="#ff0000" stroke-width="0.90" stroke-dasharray="1,1.2"/>
<line x1="163.27" x2="163.27" y1="224.40" y2="225.30" stroke="#ff0000" stroke-width="0.90" stroke-dasharray="1,1.2"/>
<line x1="162.27" x2="164.27" y1="217.50" y2="217.50" stroke="#ff0000" stroke-width="0.90"/>
<line x1="162.27" x2="164.27" y1="225.30" y2="225.30" stroke="#ff0000" stroke-width="0.90"/>
<line x1="203.09" x2="203.09" y1="233.00" y2="234.40" stroke="#ff0000" stroke-width="0.90" stroke-dasharray="1,1.2"/>
<line x1="203.09" x2="203.09" y1="240.40" y2="243.60" stroke="#ff0000" stroke-width="0.90" stroke-dasharray="1,1.2"/>
<line x1="202.09" x2="204.09" y1="233.00" y2="233.00" stroke="#ff0000" stroke-width="0.90"/>
<line x1="202.09" x2="204.09" y1="243.60" y2="243.60" stroke="#ff0000" stroke-width="0.90"/>
<line x1="221.68" x2="221.68" y1="242.10" y2="242.60" stroke="#ff0000" stroke-width="0.90" stroke-dasharray="1,1.2"/>
<line x1="221.68" x2="221.68" y1="248.60" y2="251.30" stroke="#ff0000" stroke-width="0.90" stroke-dasharray="1,1.2"/>
<line x1="220.68" x2="222.68" y1="242.10" y2="242.10" stroke="#ff0000" stroke-width="0.90"/>
<line x1="220.68" x2="222.68" y1="251.30" y2="251.30" stroke="#ff0000" stroke-width="0.90"/>
<line x1="245.57" x2="245.57" y1="252.90" y2="254.80" stroke="#ff0000" stroke-width="0.90" stroke-dasharray="1,1.2"/>
<line x1="245.57" x2="245.57" y1="260.80" y2="264.50" stroke="#ff0000" stroke-width="0.90" stroke-dasharray="1,1.2"/>
<line x1="244.57" x2="246.57" y1="252.90" y2="252.90" stroke="#ff0000" stroke-width="0.90"/>
<line x1="244.57" x2="246.57" y1="264.50" y2="264.50" stroke="#ff0000" stroke-width="0.90"/>
<line x1="272.12" x2="272.12" y1="252.30" y2="256.40" stroke="#ff0000" stroke-width="0.90" stroke-dasharray="1,1.2"/>
<line x1="272.12" x2="272.12" y1="262.40" y2="267.60" stroke="#ff0000" stroke-width="0.90" stroke-dasharray="1,1.2"/>
<line x1="271.12" x2="273.12" y1="252.30" y2="252.30" stroke="#ff0000" stroke-width="0.90"/>
<line x1="271.12" x2="273.12" y1="267.60" y2="267.60" stroke="#ff0000" stroke-width="0.90"/>
<line x1="298.68" x2="298.68" y1="265.50" y2="268.60" stroke="#ff0000" stroke-width="0.90" stroke-dasharray="1,1.2"/>
<line x1="298.68" x2="298.68" y1="274.60" y2="279.70" stroke="#ff0000" stroke-width="0.90" stroke-dasharray="1,1.2"/>
<line x1="297.68" x2="299.68" y1="265.50" y2="265.50" stroke="#ff0000" stroke-width="0.90"/>
<line x1="297.68" x2="299.68" y1="279.70" y2="279.70" stroke="#ff0000" stroke-width="0.90"/>
<line x1="338.50" x2="338.50" y1="267.50" y2="271.60" stroke="#ff0000" stroke-width="0.90" stroke-dasharray="1,1.2"/>
<line x1="338.50" x2="338.50" y1="277.60" y2="283.80" stroke="#ff0000" stroke-width="0.90" stroke-dasharray="1,1.2"/>
<line x1="337.50" x2="339.50" y1="267.50" y2="267.50" stroke="#ff0000" stroke-width="0.90"/>
<line x1="337.50" x2="339.50" y1="283.80" y2="283.80" stroke="#ff0000" stroke-width="0.90"/>
<polyline points="57.07,165.80 67.69,170.90 78.31,176.60 88.93,184.90 99.55,193.10 110.17,201.40 120.79,202.00 131.41,210.00 142.03,218.00 152.65,209.00 163.27,221.40 173.89,227.60 187.16,229.40 203.09,237.40 221.68,245.60 245.57,257.80 272.12,259.40 298.68,271.60 338.50,274.60" fill="none" stroke="#ff0000" stroke-width="1.1" stroke-dasharray="1.1,1.5"/>
<polygon points="57.07,162.90 59.27,165.80 57.07,168.70 54.87,165.80" fill="#ff0000"/>
<polygon points="67.69,168.00 69.89,170.90 67.69,173.80 65.49,170.90" fill="#ff0000"/>
<polygon points="78.31,173.70 80.51,176.60 78.31,179.50 76.11,176.60" fill="#ff0000"/>
<polygon points="88.93,182.00 91.13,184.90 88.93,187.80 86.73,184.90" fill="#ff0000"/>
<polygon points="99.55,190.20 101.75,193.10 99.55,196.00 97.35,193.10" fill="#ff0000"/>
<polygon points="110.17,198.50 112.37,201.40 110.17,204.30 107.97,201.40" fill="#ff0000"/>
<polygon points="120.79,199.10 122.99,202.00 120.79,204.90 118.59,202.00" fill="#ff0000"/>
<polygon points="131.41,207.10 133.61,210.00 131.41,212.90 129.21,210.00" fill="#ff0000"/>
<polygon points="142.03,215.10 144.23,218.00 142.03,220.90 139.83,218.00" fill="#ff0000"/>
<polygon points="152.65,206.10 154.85,209.00 152.65,211.90 150.45,209.00" fill="#ff0000"/>
<polygon points="163.27,218.50 165.47,221.40 163.27,224.30 161.07,221.40" fill="#ff0000"/>
<polygon points="173.89,224.70 176.09,227.60 173.89,230.50 171.69,227.60" fill="#ff0000"/>
<polygon points="187.16,226.50 189.36,229.40 187.16,232.30 184.97,229.40" fill="#ff0000"/>
<polygon points="203.09,234.50 205.29,237.40 203.09,240.30 200.90,237.40" fill="#ff0000"/>
<polygon points="221.68,242.70 223.88,245.60 221.68,248.50 219.48,245.60" fill="#ff0000"/>
<polygon points="245.57,254.90 247.77,257.80 245.57,260.70 243.38,257.80" fill="#ff0000"/>
<polygon points="272.12,256.50 274.32,259.40 272.12,262.30 269.93,259.40" fill="#ff0000"/>
<polygon points="298.68,268.70 300.88,271.60 298.68,274.50 296.48,271.60" fill="#ff0000"/>
<polygon points="338.50,271.70 340.70,274.60 338.50,277.50 336.30,274.60" fill="#ff0000"/>
</g>
<rect x="45.5" y="17.5" width="326.0" height="460.0" fill="none" stroke="#000" stroke-width="1.1"/>
<line x1="45.50" y1="317.50" x2="371.50" y2="317.50" stroke="#000" stroke-width="1.10"/>
<line x1="45.00" y1="478.00" x2="372.00" y2="478.00" stroke="#000" stroke-width="1.60"/>
<line x1="45.50" y1="313.54" x2="51.00" y2="313.54" stroke="#000" stroke-width="1.00"/>
<line x1="371.50" y1="313.54" x2="366.00" y2="313.54" stroke="#000" stroke-width="1.00"/>
<line x1="45.50" y1="303.71" x2="51.00" y2="303.71" stroke="#000" stroke-width="1.00"/>
<line x1="371.50" y1="303.71" x2="366.00" y2="303.71" stroke="#000" stroke-width="1.00"/>
<line x1="45.50" y1="296.73" x2="51.00" y2="296.73" stroke="#000" stroke-width="1.00"/>
<line x1="371.50" y1="296.73" x2="366.00" y2="296.73" stroke="#000" stroke-width="1.00"/>
<line x1="45.50" y1="291.32" x2="51.00" y2="291.32" stroke="#000" stroke-width="1.00"/>
<line x1="371.50" y1="291.32" x2="366.00" y2="291.32" stroke="#000" stroke-width="1.00"/>
<line x1="45.50" y1="286.89" x2="51.00" y2="286.89" stroke="#000" stroke-width="1.00"/>
<line x1="371.50" y1="286.89" x2="366.00" y2="286.89" stroke="#000" stroke-width="1.00"/>
<line x1="45.50" y1="283.15" x2="51.00" y2="283.15" stroke="#000" stroke-width="1.00"/>
<line x1="371.50" y1="283.15" x2="366.00" y2="283.15" stroke="#000" stroke-width="1.00"/>
<line x1="45.50" y1="279.91" x2="51.00" y2="279.91" stroke="#000" stroke-width="1.00"/>
<line x1="371.50" y1="279.91" x2="366.00" y2="279.91" stroke="#000" stroke-width="1.00"/>
<line x1="45.50" y1="277.06" x2="51.00" y2="277.06" stroke="#000" stroke-width="1.00"/>
<line x1="371.50" y1="277.06" x2="366.00" y2="277.06" stroke="#000" stroke-width="1.00"/>
<line x1="45.50" y1="274.50" x2="56.50" y2="274.50" stroke="#000" stroke-width="1.00"/>
<line x1="371.50" y1="274.50" x2="360.50" y2="274.50" stroke="#000" stroke-width="1.00"/>
<line x1="45.50" y1="257.68" x2="51.00" y2="257.68" stroke="#000" stroke-width="1.00"/>
<line x1="371.50" y1="257.68" x2="366.00" y2="257.68" stroke="#000" stroke-width="1.00"/>
<line x1="45.50" y1="247.85" x2="51.00" y2="247.85" stroke="#000" stroke-width="1.00"/>
<line x1="371.50" y1="247.85" x2="366.00" y2="247.85" stroke="#000" stroke-width="1.00"/>
<line x1="45.50" y1="240.87" x2="51.00" y2="240.87" stroke="#000" stroke-width="1.00"/>
<line x1="371.50" y1="240.87" x2="366.00" y2="240.87" stroke="#000" stroke-width="1.00"/>
<line x1="45.50" y1="235.46" x2="51.00" y2="235.46" stroke="#000" stroke-width="1.00"/>
<line x1="371.50" y1="235.46" x2="366.00" y2="235.46" stroke="#000" stroke-width="1.00"/>
<line x1="45.50" y1="231.03" x2="51.00" y2="231.03" stroke="#000" stroke-width="1.00"/>
<line x1="371.50" y1="231.03" x2="366.00" y2="231.03" stroke="#000" stroke-width="1.00"/>
<line x1="45.50" y1="227.29" x2="51.00" y2="227.29" stroke="#000" stroke-width="1.00"/>
<line x1="371.50" y1="227.29" x2="366.00" y2="227.29" stroke="#000" stroke-width="1.00"/>
<line x1="45.50" y1="224.05" x2="51.00" y2="224.05" stroke="#000" stroke-width="1.00"/>
<line x1="371.50" y1="224.05" x2="366.00" y2="224.05" stroke="#000" stroke-width="1.00"/>
<line x1="45.50" y1="221.20" x2="51.00" y2="221.20" stroke="#000" stroke-width="1.00"/>
<line x1="371.50" y1="221.20" x2="366.00" y2="221.20" stroke="#000" stroke-width="1.00"/>
<line x1="45.50" y1="218.64" x2="56.50" y2="218.64" stroke="#000" stroke-width="1.00"/>
<line x1="371.50" y1="218.64" x2="360.50" y2="218.64" stroke="#000" stroke-width="1.00"/>
<line x1="45.50" y1="201.82" x2="51.00" y2="201.82" stroke="#000" stroke-width="1.00"/>
<line x1="371.50" y1="201.82" x2="366.00" y2="201.82" stroke="#000" stroke-width="1.00"/>
<line x1="45.50" y1="191.99" x2="51.00" y2="191.99" stroke="#000" stroke-width="1.00"/>
<line x1="371.50" y1="191.99" x2="366.00" y2="191.99" stroke="#000" stroke-width="1.00"/>
<line x1="45.50" y1="185.01" x2="51.00" y2="185.01" stroke="#000" stroke-width="1.00"/>
<line x1="371.50" y1="185.01" x2="366.00" y2="185.01" stroke="#000" stroke-width="1.00"/>
<line x1="45.50" y1="179.60" x2="51.00" y2="179.60" stroke="#000" stroke-width="1.00"/>
<line x1="371.50" y1="179.60" x2="366.00" y2="179.60" stroke="#000" stroke-width="1.00"/>
<line x1="45.50" y1="175.17" x2="51.00" y2="175.17" stroke="#000" stroke-width="1.00"/>
<line x1="371.50" y1="175.17" x2="366.00" y2="175.17" stroke="#000" stroke-width="1.00"/>
<line x1="45.50" y1="171.43" x2="51.00" y2="171.43" stroke="#000" stroke-width="1.00"/>
<line x1="371.50" y1="171.43" x2="366.00" y2="171.43" stroke="#000" stroke-width="1.00"/>
<line x1="45.50" y1="168.19" x2="51.00" y2="168.19" stroke="#000" stroke-width="1.00"/>
<line x1="371.50" y1="168.19" x2="366.00" y2="168.19" stroke="#000" stroke-width="1.00"/>
<line x1="45.50" y1="165.34" x2="51.00" y2="165.34" stroke="#000" stroke-width="1.00"/>
<line x1="371.50" y1="165.34" x2="366.00" y2="165.34" stroke="#000" stroke-width="1.00"/>
<line x1="45.50" y1="162.78" x2="56.50" y2="162.78" stroke="#000" stroke-width="1.00"/>
<line x1="371.50" y1="162.78" x2="360.50" y2="162.78" stroke="#000" stroke-width="1.00"/>
<line x1="45.50" y1="145.96" x2="51.00" y2="145.96" stroke="#000" stroke-width="1.00"/>
<line x1="371.50" y1="145.96" x2="366.00" y2="145.96" stroke="#000" stroke-width="1.00"/>
<line x1="45.50" y1="136.13" x2="51.00" y2="136.13" stroke="#000" stroke-width="1.00"/>
<line x1="371.50" y1="136.13" x2="366.00" y2="136.13" stroke="#000" stroke-width="1.00"/>
<line x1="45.50" y1="129.15" x2="51.00" y2="129.15" stroke="#000" stroke-width="1.00"/>
<line x1="371.50" y1="129.15" x2="366.00" y2="129.15" stroke="#000" stroke-width="1.00"/>
<line x1="45.50" y1="123.74" x2="51.00" y2="123.74" stroke="#000" stroke-width="1.00"/>
<line x1="371.50" y1="123.74" x2="366.00" y2="123.74" stroke="#000" stroke-width="1.00"/>
<line x1="45.50" y1="119.31" x2="51.00" y2="119.31" stroke="#000" stroke-width="1.00"/>
<line x1="371.50" y1="119.31" x2="366.00" y2="119.31" stroke="#000" stroke-width="1.00"/>
<line x1="45.50" y1="115.57" x2="51.00" y2="115.57" stroke="#000" stroke-width="1.00"/>
<line x1="371.50" y1="115.57" x2="366.00" y2="115.57" stroke="#000" stroke-width="1.00"/>
<line x1="45.50" y1="112.33" x2="51.00" y2="112.33" stroke="#000" stroke-width="1.00"/>
<line x1="371.50" y1="112.33" x2="366.00" y2="112.33" stroke="#000" stroke-width="1.00"/>
<line x1="45.50" y1="109.48" x2="51.00" y2="109.48" stroke="#000" stroke-width="1.00"/>
<line x1="371.50" y1="109.48" x2="366.00" y2="109.48" stroke="#000" stroke-width="1.00"/>
<line x1="45.50" y1="106.92" x2="56.50" y2="106.92" stroke="#000" stroke-width="1.00"/>
<line x1="371.50" y1="106.92" x2="360.50" y2="106.92" stroke="#000" stroke-width="1.00"/>
<line x1="45.50" y1="90.10" x2="51.00" y2="90.10" stroke="#000" stroke-width="1.00"/>
<line x1="371.50" y1="90.10" x2="366.00" y2="90.10" stroke="#000" stroke-width="1.00"/>
<line x1="45.50" y1="80.27" x2="51.00" y2="80.27" stroke="#000" stroke-width="1.00"/>
<line x1="371.50" y1="80.27" x2="366.00" y2="80.27" stroke="#000" stroke-width="1.00"/>
<line x1="45.50" y1="73.29" x2="51.00" y2="73.29" stroke="#000" stroke-width="1.00"/>
<line x1="371.50" y1="73.29" x2="366.00" y2="73.29" stroke="#000" stroke-width="1.00"/>
<line x1="45.50" y1="67.88" x2="51.00" y2="67.88" stroke="#000" stroke-width="1.00"/>
<line x1="371.50" y1="67.88" x2="366.00" y2="67.88" stroke="#000" stroke-width="1.00"/>
<line x1="45.50" y1="63.45" x2="51.00" y2="63.45" stroke="#000" stroke-width="1.00"/>
<line x1="371.50" y1="63.45" x2="366.00" y2="63.45" stroke="#000" stroke-width="1.00"/>
<line x1="45.50" y1="59.71" x2="51.00" y2="59.71" stroke="#000" stroke-width="1.00"/>
<line x1="371.50" y1="59.71" x2="366.00" y2="59.71" stroke="#000" stroke-width="1.00"/>
<line x1="45.50" y1="56.47" x2="51.00" y2="56.47" stroke="#000" stroke-width="1.00"/>
<line x1="371.50" y1="56.47" x2="366.00" y2="56.47" stroke="#000" stroke-width="1.00"/>
<line x1="45.50" y1="53.62" x2="51.00" y2="53.62" stroke="#000" stroke-width="1.00"/>
<line x1="371.50" y1="53.62" x2="366.00" y2="53.62" stroke="#000" stroke-width="1.00"/>
<line x1="45.50" y1="51.06" x2="56.50" y2="51.06" stroke="#000" stroke-width="1.00"/>
<line x1="371.50" y1="51.06" x2="360.50" y2="51.06" stroke="#000" stroke-width="1.00"/>
<line x1="45.50" y1="34.24" x2="51.00" y2="34.24" stroke="#000" stroke-width="1.00"/>
<line x1="371.50" y1="34.24" x2="366.00" y2="34.24" stroke="#000" stroke-width="1.00"/>
<line x1="45.50" y1="24.41" x2="51.00" y2="24.41" stroke="#000" stroke-width="1.00"/>
<line x1="371.50" y1="24.41" x2="366.00" y2="24.41" stroke="#000" stroke-width="1.00"/>
<line x1="46.45" y1="17.50" x2="46.45" y2="22.00" stroke="#000" stroke-width="1.00"/>
<line x1="46.45" y1="317.50" x2="46.45" y2="313.00" stroke="#000" stroke-width="1.00"/>
<line x1="46.45" y1="317.50" x2="46.45" y2="320.00" stroke="#000" stroke-width="1.00"/>
<line x1="46.45" y1="477.50" x2="46.45" y2="475.00" stroke="#000" stroke-width="1.00"/>
<line x1="73.00" y1="17.50" x2="73.00" y2="22.00" stroke="#000" stroke-width="1.00"/>
<line x1="73.00" y1="317.50" x2="73.00" y2="313.00" stroke="#000" stroke-width="1.00"/>
<line x1="73.00" y1="317.50" x2="73.00" y2="320.00" stroke="#000" stroke-width="1.00"/>
<line x1="73.00" y1="477.50" x2="73.00" y2="475.00" stroke="#000" stroke-width="1.00"/>
<line x1="99.55" y1="17.50" x2="99.55" y2="22.00" stroke="#000" stroke-width="1.00"/>
<line x1="99.55" y1="317.50" x2="99.55" y2="313.00" stroke="#000" stroke-width="1.00"/>
<line x1="99.55" y1="317.50" x2="99.55" y2="320.00" stroke="#000" stroke-width="1.00"/>
<line x1="99.55" y1="477.50" x2="99.55" y2="475.00" stroke="#000" stroke-width="1.00"/>
<line x1="126.10" y1="17.50" x2="126.10" y2="26.50" stroke="#000" stroke-width="1.00"/>
<line x1="126.10" y1="317.50" x2="126.10" y2="308.50" stroke="#000" stroke-width="1.00"/>
<line x1="126.10" y1="317.50" x2="126.10" y2="322.50" stroke="#000" stroke-width="1.00"/>
<line x1="126.10" y1="477.50" x2="126.10" y2="472.50" stroke="#000" stroke-width="1.00"/>
<line x1="152.65" y1="17.50" x2="152.65" y2="22.00" stroke="#000" stroke-width="1.00"/>
<line x1="152.65" y1="317.50" x2="152.65" y2="313.00" stroke="#000" stroke-width="1.00"/>
<line x1="152.65" y1="317.50" x2="152.65" y2="320.00" stroke="#000" stroke-width="1.00"/>
<line x1="152.65" y1="477.50" x2="152.65" y2="475.00" stroke="#000" stroke-width="1.00"/>
<line x1="179.20" y1="17.50" x2="179.20" y2="22.00" stroke="#000" stroke-width="1.00"/>
<line x1="179.20" y1="317.50" x2="179.20" y2="313.00" stroke="#000" stroke-width="1.00"/>
<line x1="179.20" y1="317.50" x2="179.20" y2="320.00" stroke="#000" stroke-width="1.00"/>
<line x1="179.20" y1="477.50" x2="179.20" y2="475.00" stroke="#000" stroke-width="1.00"/>
<line x1="205.75" y1="17.50" x2="205.75" y2="22.00" stroke="#000" stroke-width="1.00"/>
<line x1="205.75" y1="317.50" x2="205.75" y2="313.00" stroke="#000" stroke-width="1.00"/>
<line x1="205.75" y1="317.50" x2="205.75" y2="320.00" stroke="#000" stroke-width="1.00"/>
<line x1="205.75" y1="477.50" x2="205.75" y2="475.00" stroke="#000" stroke-width="1.00"/>
<line x1="232.30" y1="17.50" x2="232.30" y2="26.50" stroke="#000" stroke-width="1.00"/>
<line x1="232.30" y1="317.50" x2="232.30" y2="308.50" stroke="#000" stroke-width="1.00"/>
<line x1="232.30" y1="317.50" x2="232.30" y2="322.50" stroke="#000" stroke-width="1.00"/>
<line x1="232.30" y1="477.50" x2="232.30" y2="472.50" stroke="#000" stroke-width="1.00"/>
<line x1="258.85" y1="17.50" x2="258.85" y2="22.00" stroke="#000" stroke-width="1.00"/>
<line x1="258.85" y1="317.50" x2="258.85" y2="313.00" stroke="#000" stroke-width="1.00"/>
<line x1="258.85" y1="317.50" x2="258.85" y2="320.00" stroke="#000" stroke-width="1.00"/>
<line x1="258.85" y1="477.50" x2="258.85" y2="475.00" stroke="#000" stroke-width="1.00"/>
<line x1="285.40" y1="17.50" x2="285.40" y2="22.00" stroke="#000" stroke-width="1.00"/>
<line x1="285.40" y1="317.50" x2="285.40" y2="313.00" stroke="#000" stroke-width="1.00"/>
<line x1="285.40" y1="317.50" x2="285.40" y2="320.00" stroke="#000" stroke-width="1.00"/>
<line x1="285.40" y1="477.50" x2="285.40" y2="475.00" stroke="#000" stroke-width="1.00"/>
<line x1="311.95" y1="17.50" x2="311.95" y2="22.00" stroke="#000" stroke-width="1.00"/>
<line x1="311.95" y1="317.50" x2="311.95" y2="313.00" stroke="#000" stroke-width="1.00"/>
<line x1="311.95" y1="317.50" x2="311.95" y2="320.00" stroke="#000" stroke-width="1.00"/>
<line x1="311.95" y1="477.50" x2="311.95" y2="475.00" stroke="#000" stroke-width="1.00"/>
<line x1="338.50" y1="17.50" x2="338.50" y2="26.50" stroke="#000" stroke-width="1.00"/>
<line x1="338.50" y1="317.50" x2="338.50" y2="308.50" stroke="#000" stroke-width="1.00"/>
<line x1="338.50" y1="317.50" x2="338.50" y2="322.50" stroke="#000" stroke-width="1.00"/>
<line x1="338.50" y1="477.50" x2="338.50" y2="472.50" stroke="#000" stroke-width="1.00"/>
<line x1="365.05" y1="17.50" x2="365.05" y2="22.00" stroke="#000" stroke-width="1.00"/>
<line x1="365.05" y1="317.50" x2="365.05" y2="313.00" stroke="#000" stroke-width="1.00"/>
<line x1="365.05" y1="317.50" x2="365.05" y2="320.00" stroke="#000" stroke-width="1.00"/>
<line x1="365.05" y1="477.50" x2="365.05" y2="475.00" stroke="#000" stroke-width="1.00"/>
<line x1="45.50" y1="458.11" x2="53.00" y2="458.11" stroke="#000" stroke-width="1.00"/>
<line x1="371.50" y1="458.11" x2="364.00" y2="458.11" stroke="#000" stroke-width="1.00"/>
<line x1="45.50" y1="442.19" x2="50.50" y2="442.19" stroke="#000" stroke-width="1.00"/>
<line x1="371.50" y1="442.19" x2="366.50" y2="442.19" stroke="#000" stroke-width="1.00"/>
<line x1="45.50" y1="428.74" x2="50.50" y2="428.74" stroke="#000" stroke-width="1.00"/>
<line x1="371.50" y1="428.74" x2="366.50" y2="428.74" stroke="#000" stroke-width="1.00"/>
<line x1="45.50" y1="417.08" x2="50.50" y2="417.08" stroke="#000" stroke-width="1.00"/>
<line x1="371.50" y1="417.08" x2="366.50" y2="417.08" stroke="#000" stroke-width="1.00"/>
<line x1="45.50" y1="406.80" x2="50.50" y2="406.80" stroke="#000" stroke-width="1.00"/>
<line x1="371.50" y1="406.80" x2="366.50" y2="406.80" stroke="#000" stroke-width="1.00"/>
<line x1="45.50" y1="397.60" x2="53.00" y2="397.60" stroke="#000" stroke-width="1.00"/>
<line x1="371.50" y1="397.60" x2="364.00" y2="397.60" stroke="#000" stroke-width="1.00"/>
<line x1="45.50" y1="389.28" x2="50.50" y2="389.28" stroke="#000" stroke-width="1.00"/>
<line x1="371.50" y1="389.28" x2="366.50" y2="389.28" stroke="#000" stroke-width="1.00"/>
<line x1="45.50" y1="381.68" x2="50.50" y2="381.68" stroke="#000" stroke-width="1.00"/>
<line x1="371.50" y1="381.68" x2="366.50" y2="381.68" stroke="#000" stroke-width="1.00"/>
<line x1="45.50" y1="374.70" x2="50.50" y2="374.70" stroke="#000" stroke-width="1.00"/>
<line x1="371.50" y1="374.70" x2="366.50" y2="374.70" stroke="#000" stroke-width="1.00"/>
<line x1="45.50" y1="368.23" x2="50.50" y2="368.23" stroke="#000" stroke-width="1.00"/>
<line x1="371.50" y1="368.23" x2="366.50" y2="368.23" stroke="#000" stroke-width="1.00"/>
<line x1="45.50" y1="362.21" x2="50.50" y2="362.21" stroke="#000" stroke-width="1.00"/>
<line x1="371.50" y1="362.21" x2="366.50" y2="362.21" stroke="#000" stroke-width="1.00"/>
<line x1="45.50" y1="356.57" x2="50.50" y2="356.57" stroke="#000" stroke-width="1.00"/>
<line x1="371.50" y1="356.57" x2="366.50" y2="356.57" stroke="#000" stroke-width="1.00"/>
<line x1="45.50" y1="351.28" x2="50.50" y2="351.28" stroke="#000" stroke-width="1.00"/>
<line x1="371.50" y1="351.28" x2="366.50" y2="351.28" stroke="#000" stroke-width="1.00"/>
<line x1="45.50" y1="346.29" x2="50.50" y2="346.29" stroke="#000" stroke-width="1.00"/>
<line x1="371.50" y1="346.29" x2="366.50" y2="346.29" stroke="#000" stroke-width="1.00"/>
<line x1="45.50" y1="341.57" x2="50.50" y2="341.57" stroke="#000" stroke-width="1.00"/>
<line x1="371.50" y1="341.57" x2="366.50" y2="341.57" stroke="#000" stroke-width="1.00"/>
<line x1="45.50" y1="337.09" x2="53.00" y2="337.09" stroke="#000" stroke-width="1.00"/>
<line x1="371.50" y1="337.09" x2="364.00" y2="337.09" stroke="#000" stroke-width="1.00"/>
<line x1="45.50" y1="332.83" x2="50.50" y2="332.83" stroke="#000" stroke-width="1.00"/>
<line x1="371.50" y1="332.83" x2="366.50" y2="332.83" stroke="#000" stroke-width="1.00"/>
<line x1="45.50" y1="328.77" x2="50.50" y2="328.77" stroke="#000" stroke-width="1.00"/>
<line x1="371.50" y1="328.77" x2="366.50" y2="328.77" stroke="#000" stroke-width="1.00"/>
<line x1="45.50" y1="324.89" x2="50.50" y2="324.89" stroke="#000" stroke-width="1.00"/>
<line x1="371.50" y1="324.89" x2="366.50" y2="324.89" stroke="#000" stroke-width="1.00"/>
<line x1="45.50" y1="321.18" x2="50.50" y2="321.18" stroke="#000" stroke-width="1.00"/>
<line x1="371.50" y1="321.18" x2="366.50" y2="321.18" stroke="#000" stroke-width="1.00"/>
<text x="51.5" y="13.7" font-size="12" text-anchor="start" fill="#000" >13000 GeV pp</text>
<text x="366.5" y="13.7" font-size="12" text-anchor="end" fill="#000" >Soft QCD</text>
<text x="145.3" y="45.1" font-size="12">ALICE, 13</text>
<text x="203.2" y="45.1" font-size="12" letter-spacing="0.6">TeV</text>
<text x="226.3" y="45.1" font-size="12">,</text>
<text x="230.4" y="44.5" font-size="11.8" style="font-family:'Liberation Serif',serif">&#926;</text>
<line x1="237.8" x2="239.8" y1="35.6" y2="35.6" stroke="#000" stroke-width="0.8"/>
<text x="243.2" y="45.1" font-size="12">+ #</text>
<text x="259.7" y="44.5" font-size="11.8" style="font-family:'Liberation Serif',serif">&#926;</text>
<line x1="259.4" x2="267.6" y1="35.5" y2="35.5" stroke="#000" stroke-width="0.9"/>
<text x="267.3" y="37.6" font-size="7">+</text>
<text x="33.4" y="56.5" font-size="11" text-anchor="end">10</text>
<text x="32.8" y="51.7" font-size="6.8">&#8722;1</text>
<text x="31.8" y="112.3" font-size="11" text-anchor="end">10</text>
<text x="31.2" y="107.5" font-size="6.8">&#8722;2</text>
<text x="31.8" y="168.2" font-size="11" text-anchor="end">10</text>
<text x="31.2" y="163.4" font-size="6.8">&#8722;3</text>
<text x="31.5" y="224.0" font-size="11" text-anchor="end">10</text>
<text x="30.9" y="219.2" font-size="6.8">&#8722;4</text>
<text x="31.8" y="279.9" font-size="11" text-anchor="end">10</text>
<text x="31.2" y="275.1" font-size="6.8">&#8722;5</text>
<text transform="translate(15.2,15.6) rotate(-90)" font-size="12" text-anchor="end">1/N <tspan font-size="13.5" dy="0.6">&#215;</tspan><tspan dy="-0.6"> d</tspan><tspan font-size="8.3" dy="-5.6">2</tspan><tspan dy="5.6">/(dp</tspan><tspan font-size="7.3" dy="6.6" dx="1.2">T</tspan><tspan dy="-6.6" dx="2.2">dy) [1/GeV]</tspan></text>
<text x="38.5" y="341.9" font-size="12" text-anchor="end" fill="#000" >2</text>
<text x="374" y="341.9" font-size="12" text-anchor="start" fill="#000" >2</text>
<text x="38.5" y="402.4" font-size="12" text-anchor="end" fill="#000" >1</text>
<text x="374" y="402.4" font-size="12" text-anchor="start" fill="#000" >1</text>
<text x="38.5" y="462.9" font-size="12" text-anchor="end" fill="#000" >0.5</text>
<text x="374" y="462.9" font-size="12" text-anchor="start" fill="#000" >0.5</text>
<text transform="translate(17.5,396) rotate(-90)" font-size="9" text-anchor="middle">Ratio to ALICE</text>
<text x="126.1" y="489.0" font-size="12" text-anchor="middle" fill="#000" >2</text>
<text x="232.3" y="489.0" font-size="12" text-anchor="middle" fill="#000" >4</text>
<text x="338.5" y="489.0" font-size="12" text-anchor="middle" fill="#000" >6</text>
<text x="371" y="501.5" font-size="12" text-anchor="end">p<tspan font-size="8.5" dy="5.5">T</tspan><tspan dy="-5.5" dx="3.8">[GeV]</tspan></text>
<text transform="translate(380.0,126.7) rotate(-90)" font-size="9.5" fill="#808080">Rivet 4.1.0, &#8805; 400k events</text>
<text transform="translate(380.0,311.5) rotate(-90)" font-size="9.3" fill="#808080">mcplots.cern.ch [arXiv:1306.3436]</text>
<text x="207.7" y="302.2" font-size="8" text-anchor="middle" fill="#a0a0a0" >(ALICE_2020_I1797443)</text>
<text x="93.9" y="214.1" font-size="9.5">ALICE</text>
<text x="93.9" y="227.1" font-size="9.5">Epos 1.99.crmc.1.6.0 lhc</text>
<text x="93.9" y="240.1" font-size="9.5">Herwig 7.2.1 default</text>
<text x="93.9" y="253.1" font-size="9.5">Pythia 6.428 370</text>
<text x="93.9" y="266.1" font-size="9.5">Pythia 8.315 default</text>
<text x="93.9" y="279.1" font-size="9.5">Sherpa 2.2.9 default</text>
<rect x="73.40" y="207.90" width="6.20" height="6.20" fill="#000"/>
<line x1="64" x2="89" y1="224.0" y2="224.0" stroke="#ff7f7f" stroke-width="1.1"/>
<polygon points="76.50,220.90 78.60,224.00 76.50,227.10 74.40,224.00" fill="none" stroke="#ff7f7f" stroke-width="1.0"/>
<line x1="64" x2="89" y1="237.0" y2="237.0" stroke="#3f9a22" stroke-width="1.2" stroke-dasharray="2.2,2.2"/>
<rect x="73.92" y="234.43" width="5.15" height="5.15" fill="none" stroke="#3f9a22" stroke-width="1.25"/>
<line x1="64" x2="89" y1="250.0" y2="250.0" stroke="#a4243c" stroke-width="1.2"/>
<polygon points="76.50,246.90 79.70,253.10 73.30,253.10" fill="none" stroke="#a4243c" stroke-width="1.3" stroke-linejoin="miter"/>
<line x1="64" x2="89" y1="263.0" y2="263.0" stroke="#0000e0" stroke-width="1.2"/>
<polygon points="76.50,260.30 79.40,265.70 73.60,265.70" fill="#0000e0"/>
<line x1="64" x2="89" y1="276.0" y2="276.0" stroke="#ff0000" stroke-width="1.1" stroke-dasharray="1.1,1.5"/>
<polygon points="76.50,273.10 78.70,276.00 76.50,278.90 74.30,276.00" fill="#ff0000"/>
</svg></body></html>
